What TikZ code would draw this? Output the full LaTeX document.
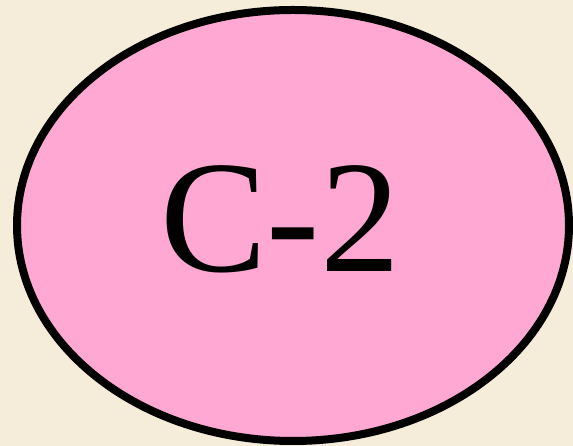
\documentclass[tikz,border=0pt]{standalone}
\usepackage{fontspec}
\setmainfont{Liberation Serif}
\usetikzlibrary{shapes.geometric}
\definecolor{bgbeige}{RGB}{245,237,218}
\definecolor{pinkfill}{RGB}{255,168,211}
\tikzset{
  ovalbox/.style={ellipse, draw=black, line width=8pt, fill=pinkfill,
    minimum width=552pt, minimum height=431pt, inner sep=0pt},
  bigtext/.style={font=\fontsize{160}{160}\selectfont, inner sep=0pt, anchor=base}
}
\begin{document}
\begin{tikzpicture}[x=1pt,y=1pt]
  \fill[bgbeige] (0,0) rectangle (573,446);
  \useasboundingbox (0,0) rectangle (573,446);
  \node[ovalbox] (oval) at (293,220.5) {};
  \node[bigtext] (label) at (280,174) {C-2};
\end{tikzpicture}
\end{document}
